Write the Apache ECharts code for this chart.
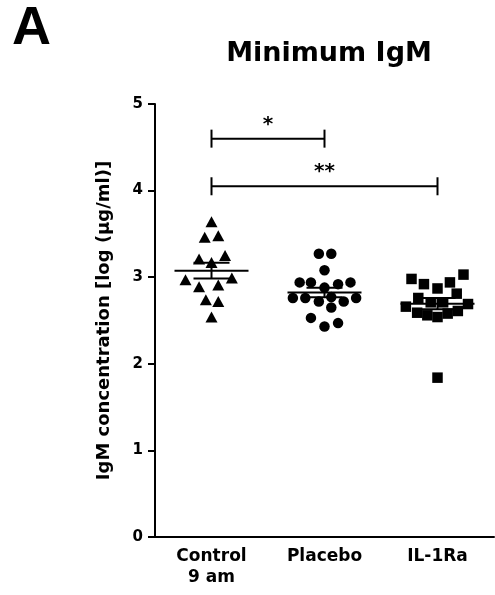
<!DOCTYPE html>
<html><head><meta charset="utf-8">
<script src="https://cdn.jsdelivr.net/npm/echarts@6/dist/echarts.min.js"></script>
<style>html,body{margin:0;padding:0;background:#fff}#c{width:495px;height:595px}</style>
</head><body><div id="c"></div>
<script>
// ---- data ----
const categories = ['Control\n9 am', 'Placebo', 'IL-1Ra'];
const yTicks = [0, 1, 2, 3, 4, 5];
const controlY  = [3.64, 3.46, 3.48, 3.21, 3.25, 3.17, 2.97, 2.99, 2.89, 2.91, 2.74, 2.72, 2.54];
const controlDx = [0, -0.06, 0.06, -0.11, 0.12, 0, -0.23, 0.18, -0.11, 0.06, -0.05, 0.06, 0];
const placeboY  = [3.27, 3.27, 3.08, 2.94, 2.94, 2.88, 2.92, 2.94, 2.76, 2.76, 2.72, 2.77, 2.72, 2.76, 2.65, 2.53, 2.43, 2.47];
const placeboDx = [-0.05, 0.06, 0, -0.22, -0.12, 0, 0.12, 0.23, -0.28, -0.17, -0.05, 0.06, 0.17, 0.28, 0.06, -0.12, 0, 0.12];
const il1raY    = [2.98, 2.92, 2.87, 2.94, 3.03, 2.76, 2.81, 2.71, 2.71, 2.66, 2.69, 2.59, 2.56, 2.54, 2.58, 2.61, 1.84];
const il1raDx   = [-0.23, -0.12, 0, 0.11, 0.23, -0.17, 0.17, -0.06, 0.05, -0.28, 0.27, -0.18, -0.09, 0, 0.09, 0.18, 0];
const brackets  = [[1, 2, 4.6, '*'], [1, 3, 4.05, '**']];

// ---- build ----
const groups = [
  { y: controlY, dx: controlDx, symbol: 'triangle', size: [12, 11] },
  { y: placeboY, dx: placeboDx, symbol: 'circle', size: 10.5 },
  { y: il1raY, dx: il1raDx, symbol: 'rect', size: 10.5 }
];
function stats(a) {
  const n = a.length, m = a.reduce((s, v) => s + v, 0) / n;
  const sd = Math.sqrt(a.reduce((s, v) => s + (v - m) * (v - m), 0) / (n - 1));
  return [m, sd / Math.sqrt(n)];
}
const FONT = '"DejaVu Sans", sans-serif';
const series = groups.map((g, i) => ({
  type: 'scatter',
  symbol: g.symbol,
  symbolSize: g.size,
  itemStyle: { color: '#000', opacity: 1 },
  z: 2,
  data: g.y.map((v, j) => [i + 1 + g.dx[j], v])
}));
series.push({
  type: 'custom',
  z: 5,
  data: groups.map((g, i) => { const s = stats(g.y); return [i + 1, s[0], s[1]]; }),
  renderItem(params, api) {
    const x = api.value(0), m = api.value(1), e = api.value(2);
    const c = api.coord([x, m]), t = api.coord([x, m + e]), b = api.coord([x, m - e]);
    const st = { stroke: '#000', lineWidth: 2 };
    return { type: 'group', children: [
      { type: 'line', shape: { x1: c[0] - 37, y1: c[1], x2: c[0] + 37, y2: c[1] }, style: st },
      { type: 'line', shape: { x1: c[0], y1: t[1], x2: c[0], y2: b[1] }, style: st },
      { type: 'line', shape: { x1: c[0] - 18, y1: t[1], x2: c[0] + 18, y2: t[1] }, style: st },
      { type: 'line', shape: { x1: c[0] - 18, y1: b[1], x2: c[0] + 18, y2: b[1] }, style: st }
    ] };
  }
});
series.push({
  type: 'custom',
  z: 5,
  data: brackets,
  renderItem(params, api) {
    const a = api.coord([api.value(0), api.value(2)]), b = api.coord([api.value(1), api.value(2)]);
    const st = { stroke: '#000', lineWidth: 2 };
    const label = brackets[params.dataIndex][3];
    return { type: 'group', children: [
      { type: 'line', shape: { x1: a[0], y1: a[1], x2: b[0], y2: b[1] }, style: st },
      { type: 'line', shape: { x1: a[0], y1: a[1] - 9, x2: a[0], y2: a[1] + 9 }, style: st },
      { type: 'line', shape: { x1: b[0], y1: b[1] - 9, x2: b[0], y2: b[1] + 9 }, style: st },
      { type: 'text', x: (a[0] + b[0]) / 2, y: a[1] - 4,
        style: { text: label, fill: '#000', font: 'bold 20px ' + FONT, textAlign: 'center', textVerticalAlign: 'bottom' } }
    ] };
  }
});

const chart = echarts.init(document.getElementById('c'), null, { renderer: 'canvas' });
chart.setOption({
  backgroundColor: '#fff',
  animation: false,
  title: [
    { text: 'A', left: 7, top: -3, textStyle: { fontFamily: '"Liberation Sans", Arial, sans-serif', fontWeight: 'bold', fontSize: 54, color: '#000' } },
    { text: 'Minimum IgM', left: 324, top: 35, textAlign: 'center', textStyle: { fontFamily: FONT, fontWeight: 'bold', fontSize: 27, color: '#000' } }
  ],
  grid: { left: 155, right: 1, top: 104, bottom: 58, containLabel: false },
  xAxis: {
    type: 'value', min: 0.5, max: 3.5,
    splitLine: { show: false },
    axisLine: { show: true, lineStyle: { color: '#000', width: 2 } },
    axisTick: { show: false },
    axisLabel: {
      customValues: [1, 2, 3],
      formatter: v => categories[Math.round(v) - 1] || '',
      color: '#000', fontFamily: FONT, fontWeight: 'bold', fontSize: 17, lineHeight: 21, margin: 9
    }
  },
  yAxis: {
    type: 'value', min: yTicks[0], max: yTicks[yTicks.length - 1], interval: 1,
    name: 'IgM concentration [log (\u03bcg/ml)]',
    nameLocation: 'middle', nameGap: 42,
    nameTextStyle: { color: '#000', fontFamily: FONT, fontWeight: 'bold', fontSize: 18 },
    splitLine: { show: false },
    axisLine: { show: true, lineStyle: { color: '#000', width: 2 } },
    axisTick: { show: true, length: 7, lineStyle: { color: '#000', width: 2 } },
    axisLabel: { color: '#000', fontFamily: FONT, fontWeight: 'bold', fontSize: 15, margin: 12 }
  },
  series
});
</script></body></html>
